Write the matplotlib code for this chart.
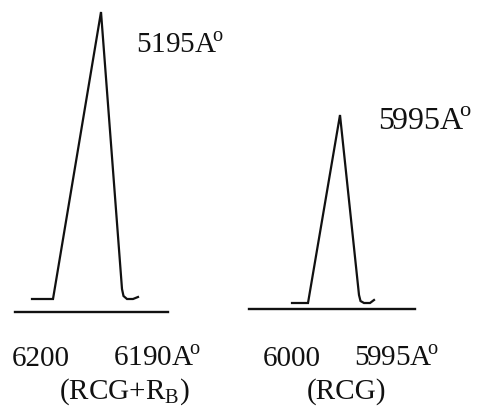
import matplotlib.pyplot as plt

plt.rcParams["font.family"] = ["Liberation Serif", "DejaVu Serif"]
plt.rcParams["mathtext.fontset"] = "custom"
plt.rcParams["mathtext.rm"] = "Liberation Serif"

# Trace profiles, in page units (x right, y down)
left_x = [32, 53, 101, 122, 123.5, 127, 133, 138]
left_y = [299, 299, 12, 289, 296, 299, 299, 297]
right_x = [292, 308, 340, 359, 360.5, 364, 370, 374]
right_y = [303, 303, 115, 295, 301, 303, 303, 300]

# Baselines under each trace
left_axis_x = [15, 168]
left_axis_y = [312, 312]
right_axis_x = [249, 415]
right_axis_y = [309, 309]

deg = "$^{\\!\\mathrm{o}}$"
peak_labels = ["5195A" + deg, "5995A" + deg]
tick_labels = ["6200", "6190A" + deg, "6000", "5995A" + deg]
sample_labels = ["(RCG+R$_{\\mathrm{B}}$)", "(RCG)"]

fig = plt.figure(figsize=(4.82, 4.12), dpi=100)
ax = fig.add_axes([0, 0, 1, 1])
ax.set_xlim(0, 482)
ax.set_ylim(412, 0)
ax.axis("off")

ink = "#111111"
for xs, ys in [(left_x, left_y), (right_x, right_y)]:
    ax.plot(xs, ys, color=ink, lw=1.6, solid_joinstyle="miter")
for xs, ys in [(left_axis_x, left_axis_y), (right_axis_x, right_axis_y)]:
    ax.plot(xs, ys, color=ink, lw=1.7)

fs = 21
ax.text(136, 53, peak_labels[0], fontsize=fs, color=ink, va="baseline")
ax.text(378, 130, peak_labels[1], fontsize=23, color=ink, va="baseline")
for x, s in zip([12, 113, 263, 354], tick_labels):
    ax.text(x, 366, s, fontsize=fs, color=ink, va="baseline")
ax.text(59, 399, sample_labels[0], fontsize=fs, color=ink, va="baseline")
ax.text(307, 399, sample_labels[1], fontsize=fs, color=ink, va="baseline")

fig.savefig("out.png", dpi=100, facecolor="white")
